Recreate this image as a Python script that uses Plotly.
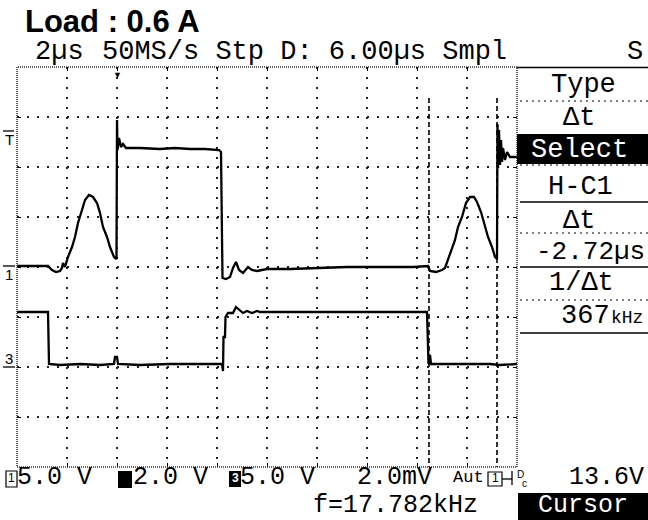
import plotly.graph_objects as go

# Channel 1 (5 V/div): time in microseconds, volts
ch1_t = [0.00, 1.24, 1.40, 1.56, 1.72, 1.80, 1.84, 1.92, 2.04, 2.20, 2.32, 2.44, 2.60, 2.72,
         2.88, 3.04, 3.20, 3.32, 3.44, 3.60, 3.72, 3.88, 3.98, 4.00, 4.02, 4.08, 4.16, 4.24,
         4.36, 4.92, 5.72, 6.32, 6.92, 7.52, 8.08, 8.16, 8.22, 8.36, 8.52, 8.64, 8.76, 8.88,
         9.04, 9.24, 9.40, 9.60, 10.00, 10.92, 12.00, 13.20, 14.52, 15.84, 16.44, 16.52, 16.76,
         17.00, 17.12, 17.24, 17.40, 17.52, 17.64, 17.80, 17.96, 18.12, 18.28, 18.40, 18.56,
         18.72, 18.84, 19.00, 19.12, 19.20, 19.22, 19.24, 19.28, 19.32, 19.36, 19.40, 19.44,
         19.52, 19.60, 19.72, 20.00]
ch1_v = [0.1, 0.1, -0.3, -0.5, -0.4, -0.1, 0.4, 0.0, 1.0, 2.0, 3.0, 4.4, 5.7, 6.7,
         7.2, 7.0, 6.4, 5.4, 4.0, 3.0, 2.0, 1.0, 0.8, 14.7, 11.7, 12.9, 12.0, 12.3,
         11.9, 11.9, 11.8, 11.9, 11.8, 11.8, 11.7, 11.5, -1.1, -1.2, -1.0, -0.1, 0.5, -0.3,
         -0.6, 0.0, -0.3, -0.4, -0.2, -0.2, -0.1, 0.0, 0.0, 0.0, 0.1, -0.4, -0.5,
         -0.3, -0.1, 0.7, 1.7, 2.7, 4.0, 5.0, 6.4, 7.0, 7.0, 6.5, 5.5,
         4.2, 3.0, 2.0, 1.0, 0.8, 14.3, 9.9, 13.7, 10.2, 12.7, 10.5, 11.9,
         10.7, 11.5, 11.0, 11.0]

# Channel 3 (5 V/div)
ch3_t = [0.00, 1.24, 1.28, 1.72, 2.52, 3.32, 3.88, 3.92, 4.00, 4.04, 4.92, 6.12, 7.32, 8.20,
         8.24, 8.26, 8.32, 8.34, 8.44, 8.64, 8.76, 8.92, 9.04, 9.20, 9.40, 9.60, 9.72, 11.32,
         13.32, 15.32, 16.40, 16.46, 16.52, 16.56, 17.72, 18.92, 19.32, 20.00]
ch3_v = [5.4, 5.4, 0.2, 0.1, 0.2, 0.1, 0.2, 0.9, 0.9, 0.2, 0.1, 0.2, 0.2, 0.2,
         -0.5, 2.9, 2.9, 4.9, 5.3, 5.3, 5.9, 5.6, 5.3, 5.5, 5.3, 5.5, 5.4, 5.4,
         5.4, 5.4, 5.4, 0.2, 1.1, 0.2, 0.2, 0.2, 0.1, 0.2]

ch1_scale, ch1_offset = 5.0, 0.0     # V/div, div
ch3_scale, ch3_offset = 5.0, -1.98
trig_time = 4.0                       # us
cursor_t = [16.48, 19.20]             # us
cursor_top = 3.38                     # div
time_per_div = 2.0
n_xdiv, n_ydiv = 10, 8

header_left = "2µs"
header_main = "50MS/s Stp D: 6.00µs Smpl"
header_right = "S"
title_text = "Load : 0.6 A"
menu_items = ["Type", "Δt", "Select", "H-C1", "Δt", "-2.72µs", "1/Δt"]
menu_value = "367"
menu_unit = "kHz"
bottom_items = ["5.0 V", "2.0 V", "5.0 V", "2.0mV", "Aut", "13.6V"]
freq_text = "f=17.782kHz"
softkey_text = "Cursor"

# ---------------- layout helpers ----------------
W, H = 648, 520
L, R, T, B = 17, 517, 67, 467
MONO = "Liberation Mono"

def px(x):
    return (x - L) / (R - L)

def py(y):
    return (B - y) / (B - T)

ch1_y = [v / ch1_scale + ch1_offset for v in ch1_v]
ch3_y = [v / ch3_scale + ch3_offset for v in ch3_v]

fig = go.Figure()
for c in cursor_t:
    fig.add_trace(go.Scatter(x=[c, c], y=[cursor_top, -n_ydiv / 2], mode="lines",
                             line=dict(color="black", width=1.6, dash="5px,3px"),
                             hoverinfo="skip", showlegend=False))
fig.add_trace(go.Scatter(x=ch1_t, y=ch1_y, mode="lines",
                         line=dict(color="black", width=2.3), showlegend=False))
fig.add_trace(go.Scatter(x=ch3_t, y=ch3_y, mode="lines",
                         line=dict(color="black", width=2.3), showlegend=False))

shapes = []
anns = []

def ann(text, x, y, size=27, xanchor="left", color="black", family=MONO, bold=False):
    anns.append(dict(text=text, x=px(x), y=py(y), xref="paper", yref="paper",
                     xanchor=xanchor, yanchor="middle", showarrow=False, borderpad=0,
                     font=dict(family=family, size=size, color=color,
                               weight="bold" if bold else "normal")))

def rect(x0, y0, x1, y1, fill=None, lw=1.2, dash=None):
    shapes.append(dict(type="rect", xref="paper", yref="paper", x0=px(x0), x1=px(x1),
                       y0=py(y1), y1=py(y0), fillcolor=fill if fill else "rgba(0,0,0,0)",
                       line=dict(color="black", width=lw if fill is None else 0, dash=dash),
                       layer="above"))

def hline(y, x0, x1, dash=None, lw=1.5):
    shapes.append(dict(type="line", xref="paper", yref="paper", x0=px(x0), x1=px(x1),
                       y0=py(y), y1=py(y), line=dict(color="black", width=lw, dash=dash)))

# grid border (dense dotted)
shapes.append(dict(type="rect", xref="paper", yref="paper", x0=0, x1=1, y0=0, y1=1,
                   line=dict(color="#333", width=1.6, dash="1px,1px"), layer="above"))

# title + header
ann(title_text, 24, 22, size=31, family="Liberation Sans", bold=True)
ann(header_left, 34, 52)
ann(header_main, 101, 52)
ann(header_right, 644, 52, xanchor="right")

# right menu
hline(67.5, R, W)
for yy in [101, 165, 233, 300]:
    hline(yy, R + 3, W, dash="2px,4px", lw=1.2)
for yy in [202, 267, 333]:
    hline(yy, R + 3, W)
rect(R, 134, W, 164, fill="black")
menu_pos = [(583, 85), (579, 118), (579, 150), (580, 187), (579, 221), (590, 252), (581, 283)]
for txt, (xx, yy) in zip(menu_items, menu_pos):
    if txt.startswith("-"):
        ann(txt, 646, yy, size=26, xanchor="right")
    else:
        ann(txt, xx, yy, xanchor="center", color="white" if txt == "Select" else "black")
ann(menu_value, 611, 316, xanchor="right")
ann(menu_unit, 610, 318, size=18)

# left channel markers
ann("T", 4, 139, size=15, family="Liberation Sans")
hline(131, 3, 14, lw=1.3)
ann("1", 4, 274, size=15, family="Liberation Sans")
hline(266, 3, 15, lw=1.3)
ann("3", 4, 358, size=15, family="Liberation Sans")
hline(367, 3, 15, lw=1.3)
# trigger position marker
anns.append(dict(text="▼", x=trig_time, y=n_ydiv / 2, xref="x", yref="y", yanchor="top",
                 showarrow=False, font=dict(size=9, color="black"), borderpad=0))

# bottom status line
ROW1, ROW2 = 477.5, 505.5
FS = 25
rect(6, 471, 17, 487)
ann("1", 11.5, ROW1, size=12, xanchor="center", family="Liberation Sans")
ann(bottom_items[0], 16, ROW1, size=FS)
rect(118, 471, 132, 488, fill="black")
ann(bottom_items[1], 132, ROW1, size=FS)
rect(229, 471, 241, 487, fill="black")
ann("3", 235, ROW1, size=12, xanchor="center", color="white", family="Liberation Sans", bold=True)
ann(bottom_items[2], 239, ROW1, size=FS)
ann(bottom_items[3], 356, ROW1, size=FS)
ann(bottom_items[4], 452, ROW1, size=17)
rect(488, 472, 502, 486)
ann("1", 495, ROW1, size=12, xanchor="center", family="Liberation Sans")
hline(479, 502, 512, lw=1.3)
shapes.append(dict(type="line", xref="paper", yref="paper", x0=px(512), x1=px(512),
                   y0=py(471), y1=py(485), line=dict(color="black", width=1.3)))
ann("D", 520, 474, size=10, xanchor="center", family="Liberation Sans")
ann("c", 524, 483, size=10, xanchor="center", family="Liberation Sans")
ann(bottom_items[5], 645, ROW1, size=FS, xanchor="right")
ann(freq_text, 312, ROW2, size=FS)
rect(518, 493, W, H, fill="black")
ann(softkey_text, 583, ROW2, size=FS, xanchor="center", color="white")

fig.update_layout(
    width=W, height=H, autosize=False,
    margin=dict(l=L, r=W - R, t=T, b=H - B, pad=0),
    paper_bgcolor="white", plot_bgcolor="white",
    shapes=shapes, annotations=anns, showlegend=False,
    xaxis=dict(range=[0, n_xdiv * time_per_div], tick0=0, dtick=time_per_div,
               showgrid=True, gridcolor="#222", gridwidth=2, griddash="2px,8px",
               zeroline=False, showline=False, ticks="inside", ticklen=4,
               tickcolor="black", tickwidth=1, mirror="ticks", showticklabels=False,
               fixedrange=True),
    yaxis=dict(range=[-n_ydiv / 2, n_ydiv / 2], tick0=0, dtick=1,
               showgrid=True, gridcolor="#222", gridwidth=2, griddash="2px,8px",
               zeroline=False, showline=False, ticks="inside", ticklen=4,
               tickcolor="black", tickwidth=1, mirror="ticks", showticklabels=False,
               fixedrange=True),
)

fig.write_html("out.html", config={"displayModeBar": False},
               post_script="document.body.style.margin='0';document.body.style.overflow='hidden';")
